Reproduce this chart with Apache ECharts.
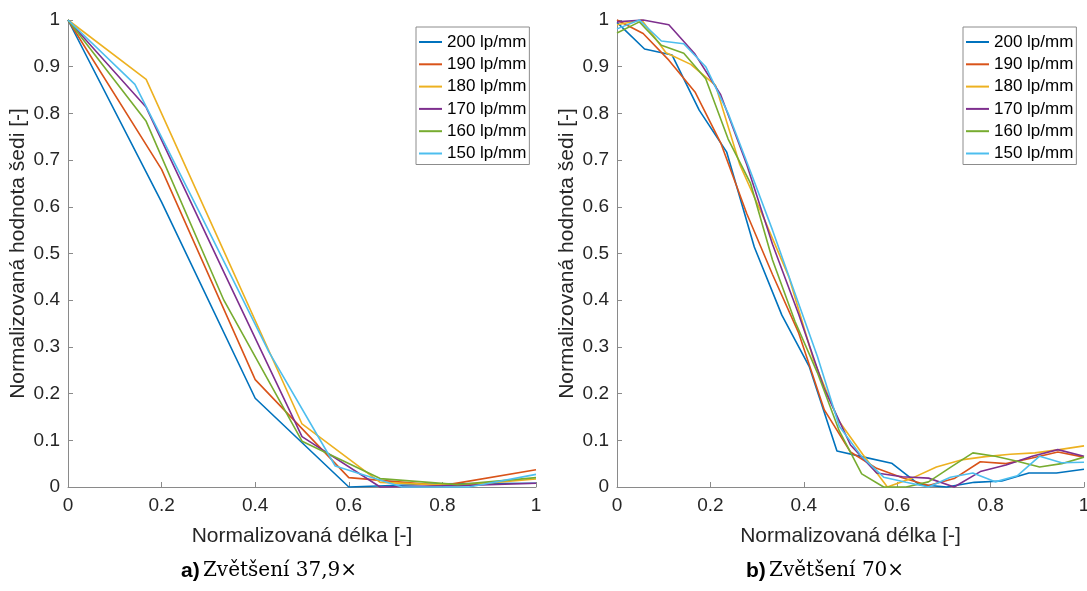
<!DOCTYPE html>
<html>
<head>
<meta charset="utf-8">
<script src="https://cdn.jsdelivr.net/npm/echarts@6/dist/echarts.min.js"></script>
<style>
html,body{margin:0;padding:0;background:#fff;}
#c{width:1087px;height:591px;}
</style>
</head>
<body>
<div id="c"></div>
<script>
// ---------- data ----------
const seriesNames = ['200 lp/mm', '190 lp/mm', '180 lp/mm', '170 lp/mm', '160 lp/mm', '150 lp/mm'];
const yTickLabels = ['0', '0.1', '0.2', '0.3', '0.4', '0.5', '0.6', '0.7', '0.8', '0.9', '1'];
const xTickLabels = ['0', '0.2', '0.4', '0.6', '0.8', '1'];

// panel a) Zvětšení 37,9×
const xA6 = [0, 0.2, 0.4, 0.6, 0.8, 1];
const xA7 = [0, 0.167, 0.333, 0.5, 0.667, 0.833, 1];
const xA8 = [0, 0.143, 0.286, 0.429, 0.571, 0.714, 0.857, 1];
const yA200 = [1, 0.61, 0.19, 0, 0.007, 0.008];
const yA190 = [1, 0.68, 0.23, 0.02, 0.003, 0.037];
const yA180 = [1, 0.873, 0.505, 0.135, 0.01, 0.003, 0.017];
const yA170 = [1, 0.813, 0.46, 0.108, 0.0, 0.003, 0.008];
const yA160 = [1, 0.783, 0.40, 0.098, 0.018, 0.005, 0.02];
const yA150 = [1, 0.862, 0.578, 0.29, 0.045, 0.0, 0.0, 0.027];

// panel b) Zvětšení 70×
const xB18 = [0, 0.059, 0.118, 0.176, 0.235, 0.294, 0.353, 0.412, 0.471, 0.529, 0.588, 0.647, 0.706, 0.765, 0.824, 0.882, 0.941, 1];
const xB19 = [0, 0.056, 0.111, 0.167, 0.222, 0.278, 0.333, 0.389, 0.444, 0.5, 0.556, 0.611, 0.667, 0.722, 0.778, 0.833, 0.889, 0.944, 1];
const xB20 = [0, 0.053, 0.105, 0.158, 0.211, 0.263, 0.316, 0.368, 0.421, 0.474, 0.526, 0.579, 0.632, 0.684, 0.737, 0.789, 0.842, 0.895, 0.947, 1];
const xB22 = [0, 0.048, 0.095, 0.143, 0.19, 0.238, 0.286, 0.333, 0.381, 0.429, 0.476, 0.524, 0.571, 0.619, 0.667, 0.714, 0.762, 0.81, 0.857, 0.905, 0.952, 1];
const yB200 = [0.995, 0.938, 0.925, 0.807, 0.717, 0.514, 0.368, 0.257, 0.077, 0.064, 0.051, 0.005, 0.0, 0.01, 0.013, 0.03, 0.03, 0.038];
const yB190 = [1.0, 0.971, 0.914, 0.846, 0.737, 0.585, 0.455, 0.33, 0.165, 0.075, 0.04, 0.02, 0.003, 0.018, 0.054, 0.05, 0.062, 0.075, 0.064];
const yB180 = [0.99, 1.0, 0.93, 0.905, 0.86, 0.69, 0.572, 0.45, 0.272, 0.143, 0.07, 0.0, 0.019, 0.043, 0.058, 0.065, 0.07, 0.073, 0.08, 0.088];
const yB170 = [0.996, 1.0, 0.99, 0.927, 0.84, 0.69, 0.52, 0.37, 0.21, 0.09, 0.03, 0.022, 0.019, 0.0, 0.033, 0.047, 0.066, 0.08, 0.066];
const yB160 = [0.972, 0.996, 0.946, 0.929, 0.874, 0.745, 0.65, 0.486, 0.355, 0.245, 0.12, 0.028, 0.0, 0.0, 0.011, 0.042, 0.073, 0.066, 0.055, 0.043, 0.05, 0.064];
const yB150 = [0.981, 1.0, 0.955, 0.949, 0.90, 0.80, 0.675, 0.55, 0.415, 0.28, 0.13, 0.065, 0.021, 0.01, 0.0, 0.021, 0.03, 0.011, 0.024, 0.066, 0.052, 0.053];

// ---------- chart ----------
const colors = ['#0072BD', '#D95319', '#EDB120', '#7E2F8E', '#77AC30', '#4DBEEE'];
const FONT = "'Liberation Sans', Arial, Helvetica, sans-serif";
const AXIS_COLOR = '#8a8a8a';
const TEXT_COLOR = '#262626';

function pairs(xs, ys) { return xs.map((x, i) => [x, ys[i]]); }

const panelA = [[xA6, yA200], [xA6, yA190], [xA7, yA180], [xA7, yA170], [xA7, yA160], [xA8, yA150]];
const panelB = [[xB18, yB200], [xB19, yB190], [xB20, yB180], [xB19, yB170], [xB22, yB160], [xB22, yB150]];

function makeX(gi) {
  return {
    type: 'value', gridIndex: gi, min: 0, max: 1, interval: 0.2,
    name: 'Normalizovaná délka [-]', nameLocation: 'middle', nameGap: 39,
    nameTextStyle: { fontSize: 21, color: TEXT_COLOR, fontFamily: FONT },
    axisLine: { show: true, lineStyle: { color: AXIS_COLOR, width: 1 } },
    axisTick: { show: true, inside: true, length: 5, lineStyle: { color: AXIS_COLOR } },
    axisLabel: { fontSize: 19, color: TEXT_COLOR, fontFamily: FONT, margin: 9,
      formatter: v => xTickLabels[Math.round(v * 5)] },
    splitLine: { show: false }
  };
}
function makeY(gi) {
  return {
    type: 'value', gridIndex: gi, min: 0, max: 1, interval: 0.1,
    name: 'Normalizovaná hodnota šedi [-]', nameLocation: 'middle', nameGap: 39,
    nameTextStyle: { fontSize: 21, color: TEXT_COLOR, fontFamily: FONT },
    axisLine: { show: true, lineStyle: { color: AXIS_COLOR, width: 1 } },
    axisTick: { show: true, inside: true, length: 5, lineStyle: { color: AXIS_COLOR } },
    axisLabel: { fontSize: 19, color: TEXT_COLOR, fontFamily: FONT, margin: 8,
      formatter: v => yTickLabels[Math.round(v * 10)] },
    splitLine: { show: false }
  };
}
function makeLegend(left) {
  return {
    orient: 'vertical', left: left, top: 27,
    icon: 'rect', itemWidth: 23, itemHeight: 2, itemGap: 2.3,
    padding: [5, 3, 1, 3],
    borderColor: '#8c8c8c', borderWidth: 1, backgroundColor: '#fff',
    textStyle: { fontSize: 17, color: '#000', fontFamily: FONT, lineHeight: 20 },
    selectedMode: false,
    data: seriesNames
  };
}

const series = [];
panelA.forEach((p, i) => series.push({
  name: seriesNames[i], type: 'line', xAxisIndex: 0, yAxisIndex: 0,
  data: pairs(p[0], p[1]), showSymbol: false, symbol: 'none',
  lineStyle: { color: colors[i], width: 1.6 }, itemStyle: { color: colors[i] },
  clip: false
}));
panelB.forEach((p, i) => series.push({
  name: seriesNames[i], type: 'line', xAxisIndex: 1, yAxisIndex: 1,
  data: pairs(p[0], p[1]), showSymbol: false, symbol: 'none',
  lineStyle: { color: colors[i], width: 1.6 }, itemStyle: { color: colors[i] },
  clip: false
}));

const chart = echarts.init(document.getElementById('c'), null, { renderer: 'canvas' });
chart.setOption({
  animation: false,
  backgroundColor: '#fff',
  color: colors,
  grid: [
    { left: 68, right: 551, top: 20, bottom: 104, containLabel: false, outerBoundsMode: 'none' },
    { left: 617, right: 3, top: 20, bottom: 104, containLabel: false, outerBoundsMode: 'none' }
  ],
  xAxis: [makeX(0), makeX(1)],
  yAxis: [makeY(0), makeY(1)],
  legend: [makeLegend(416), makeLegend(963)],
  series: series,
  graphic: [
    { type: 'text', x: 269, y: 571, style: {
      text: '{b|a)} {s|Zvětšení 37,9×}', align: 'center', verticalAlign: 'middle', fill: '#000',
      rich: { b: { fontFamily: FONT, fontWeight: 'bold', fontSize: 21, fill: '#000' },
              s: { fontFamily: "'DejaVu Serif', serif", fontSize: 20, fill: '#000' } } } },
    { type: 'text', x: 825, y: 571, style: {
      text: '{b|b)} {s|Zvětšení 70×}', align: 'center', verticalAlign: 'middle', fill: '#000',
      rich: { b: { fontFamily: FONT, fontWeight: 'bold', fontSize: 21, fill: '#000' },
              s: { fontFamily: "'DejaVu Serif', serif", fontSize: 20, fill: '#000' } } } }
  ]
});
</script>
</body>
</html>
